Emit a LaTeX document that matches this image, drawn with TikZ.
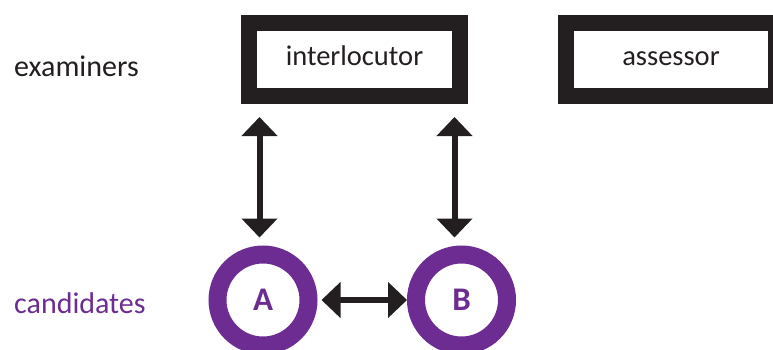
\documentclass[tikz,border=0pt]{standalone}
\usepackage{fontspec}
\setmainfont{Carlito}
\usetikzlibrary{arrows.meta,calc}
\definecolor{inkblack}{RGB}{35,31,32}
\definecolor{candpurple}{RGB}{108,44,145}
\tikzset{
  exambox/.style={draw=inkblack, line width=16pt, rectangle, minimum width=211pt, minimum height=73pt,
    inner sep=0pt, text height=15pt, text depth=4pt, font=\fontsize{28.5}{30}\selectfont, text=inkblack},
  candring/.style={draw=candpurple, line width=18pt, circle, minimum size=91pt, inner sep=0pt,
    text height=22pt, text depth=2pt, font=\fontsize{33}{34}\selectfont\bfseries, text=candpurple},
  rowlabel/.style={anchor=base west, inner sep=0pt, font=\fontsize{30}{32}\selectfont},
  dblarrow/.style={draw=inkblack, line width=6pt, {Triangle[width=35pt,length=19pt]}-{Triangle[width=35pt,length=19pt]}}
}
\begin{document}
\begin{tikzpicture}[x=1pt,y=-1pt]
\useasboundingbox (0,0) rectangle (773,349);
\clip (0,0) rectangle (773,349);
\node[rowlabel, text=inkblack] (examiners) at (14,76) {examiners};
\node[rowlabel, text=candpurple] (candidates) at (14,313) {candidates};
\node[exambox] (interl) at (354.5,59.5) {interlocutor};
\node[exambox, minimum width=210pt] (assess) at (671,59.5) {assessor};
\node[candring] (A) at (263,300) {A};
\node[candring] (B) at (461.5,300) {B};
\coordinate (t1) at ($(interl.south west)+(18.5,13)$);
\coordinate (t2) at ($(interl.south east)+(-13.5,13)$);
\draw[dblarrow, shorten >=8pt] (t1) -- (t1 |- A.north);
\draw[dblarrow, shorten >=8pt] (t2) -- (t2 |- B.north);
\draw[dblarrow, shorten <=4pt] (A.east) -- (B.west);
\end{tikzpicture}
\end{document}
